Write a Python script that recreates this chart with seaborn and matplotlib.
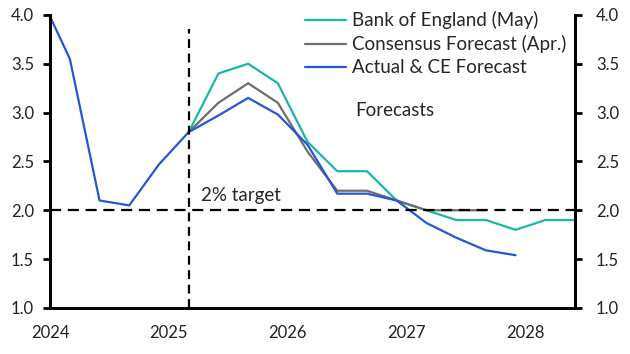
#!/usr/bin/env python3
"""UK CPI inflation: actual & forecasts (quarterly, % y/y)."""

import pandas as pd
import matplotlib
matplotlib.use("Agg")
import matplotlib.pyplot as plt
import seaborn as sns

# Data
actual_quarters = ["2023Q4", "2024Q1", "2024Q2", "2024Q3", "2024Q4",
                   "2025Q1", "2025Q2", "2025Q3", "2025Q4",
                   "2026Q1", "2026Q2", "2026Q3", "2026Q4",
                   "2027Q1", "2027Q2", "2027Q3", "2027Q4"]
actual_ce = [4.2, 3.55, 2.1, 2.05, 2.47,
             2.8, 2.97, 3.15, 2.98,
             2.67, 2.17, 2.17, 2.1,
             1.87, 1.72, 1.59, 1.54]

boe_quarters = ["2025Q1", "2025Q2", "2025Q3", "2025Q4",
                "2026Q1", "2026Q2", "2026Q3", "2026Q4",
                "2027Q1", "2027Q2", "2027Q3", "2027Q4",
                "2028Q1", "2028Q2"]
boe = [2.8, 3.4, 3.5, 3.3, 2.7, 2.4, 2.4, 2.1, 2.0, 1.9, 1.9, 1.8, 1.9, 1.9]

consensus_quarters = ["2025Q1", "2025Q2", "2025Q3", "2025Q4",
                      "2026Q1", "2026Q2", "2026Q3", "2026Q4",
                      "2027Q1", "2027Q2", "2027Q3"]
consensus = [2.8, 3.1, 3.3, 3.1, 2.6, 2.2, 2.2, 2.1, 2.0, 2.0, 2.0]

series_names = ["Bank of England (May)", "Consensus Forecast (Apr.)",
                "Actual & CE Forecast"]
colors = ["#19b8a6", "#6e6e6e", "#2457d4"]

target = 2.0
forecast_start = "2025Q1"
x_years = [2024, 2025, 2026, 2027, 2028]
y_ticks = [1.0, 1.5, 2.0, 2.5, 3.0, 3.5, 4.0]


def qpos(q):
    # quarters plotted at the start of the quarter's last month
    year, qn = int(q[:4]), int(q[-1])
    return year + (qn - 1) / 4 + 1 / 6


frames = []
for name, qs, vals in zip(series_names,
                          [boe_quarters, consensus_quarters, actual_quarters],
                          [boe, consensus, actual_ce]):
    frames.append(pd.DataFrame({"x": [qpos(q) for q in qs], "value": vals,
                                "series": name}))
df = pd.concat(frames, ignore_index=True)

sns.set_style("white")
plt.rcParams["font.family"] = ["Lato", "DejaVu Sans"]
plt.rcParams["font.size"] = 12

fig = plt.figure(figsize=(6.3, 3.54), dpi=100)
ax = fig.add_axes([0.0794, 0.130, 0.8333, 0.828])

sns.lineplot(data=df, x="x", y="value", hue="series", hue_order=series_names,
             palette=colors, linewidth=1.6, ax=ax, legend=False,
             estimator=None, sort=True)

x_left = 2024.0
x_right = qpos(boe_quarters[-1])
ax.set_xlim(x_left, x_right)
ax.set_ylim(1.0, 4.0)

# 2% target and forecast divider
ax.axhline(target, color="black", lw=1.6, dashes=(5, 3), zorder=5)
ax.plot([qpos(forecast_start)] * 2, [1.0, 3.86], color="black", lw=1.6,
        dashes=(4, 2.5), zorder=5, clip_on=False)
ax.text(2025.27, 2.15, "2% target", fontsize=13.5, va="center", ha="left")
ax.text(2026.57, 3.02, "Forecasts", fontsize=13.5, va="center", ha="left")

ax.set_xticks(x_years)
ax.set_xticklabels([str(y) for y in x_years])
ax.set_yticks(y_ticks)
ax.set_yticklabels([f"{v:.1f}" for v in y_ticks])
ax.set_xlabel("")
ax.set_ylabel("")

ax2 = ax.twinx()
ax2.set_ylim(1.0, 4.0)
ax2.set_yticks(y_ticks)
ax2.set_yticklabels([f"{v:.1f}" for v in y_ticks])

for a in (ax, ax2):
    a.spines["top"].set_visible(False)
    for side in ("left", "right", "bottom"):
        a.spines[side].set_linewidth(2)
        a.spines[side].set_color("black")
    a.tick_params(axis="both", direction="out", length=5, width=2,
                  color="black", labelsize=12, labelcolor="#222222")
ax.tick_params(axis="x", pad=7.5)
ax.tick_params(axis="y", pad=6.5, left=True)
ax2.tick_params(axis="y", pad=10, right=True)

# legend
handles = [plt.Line2D([], [], color=c, lw=1.6) for c in colors]
ax.legend(handles, series_names, loc="upper left",
          bbox_to_anchor=(0.486, 1.012), frameon=False, borderpad=0,
          borderaxespad=0, handlelength=2.2, handletextpad=0.3,
          labelspacing=0.32, fontsize=13.5)

fig.savefig("out.png", dpi=100)
